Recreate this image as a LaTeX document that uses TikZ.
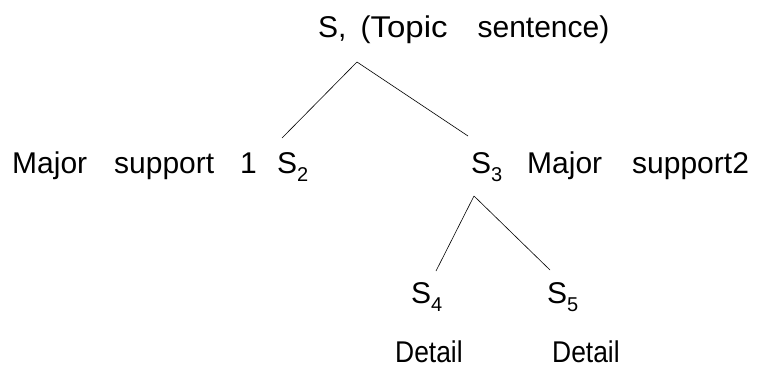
\documentclass[tikz,border=0pt]{standalone}
\usepackage{fontspec}
\setmainfont{Liberation Sans}
\newcommand{\subidx}[1]{\raisebox{-8pt}{\fontsize{20}{20}\selectfont #1}}
\tikzset{
  word/.style={anchor=base west, inner sep=0pt, font=\fontsize{30}{36}\selectfont},
  branch/.style={thin, line width=0.6pt}
}
\begin{document}
\begin{tikzpicture}[x=1pt,y=-1pt]
      \useasboundingbox (0,0) rectangle (761,370);
      \draw
        (318,37.5) node[word] (topic){S,\hspace{14pt}(\scalebox{1.1}[1]{Topic}\hspace{30pt}sentence)}
        (12,173.3) node[word] (sup1){Major\hspace{27pt}support\hspace{26pt}1}
        (277,173.3) node[word] (s2){S\subidx{2}}
        (471,173.3) node[word] (s3){S\subidx{3}}
        (527,173.3) node[word] (sup2){Major\hspace{30pt}support2}
        (411,303) node[word] (s4){S\subidx{4}}
        (547,303) node[word] (s5){S\subidx{5}}
        (395,362) node[word] (det4){\scalebox{0.88}[1]{Detail}}
        (552,362) node[word] (det5){\scalebox{0.88}[1]{Detail}};
      \coordinate (top1) at (357,62);
      \coordinate (top2) at (474,196);
      \coordinate (end2) at (282,138);
      \coordinate (end3) at (468,136);
      \coordinate (end4) at (436,271);
      \coordinate (end5) at (550,270);
      \begin{scope}[branch]
        \draw (top1) to (end2);
        \draw (top1) to (end3);
        \draw (top2) to (end4);
        \draw (top2) to (end5);
      \end{scope}
    \end{tikzpicture}
\end{document}
